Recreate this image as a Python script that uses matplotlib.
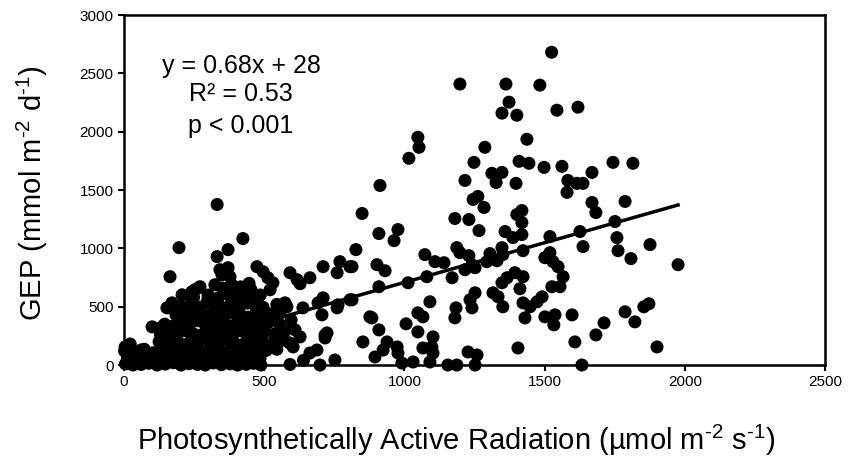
import matplotlib
matplotlib.use('Agg')
import matplotlib.pyplot as plt
import numpy as np

plt.rcParams['font.family'] = ['Liberation Sans', 'DejaVu Sans']
plt.rcParams['mathtext.fontset'] = 'custom'
plt.rcParams['mathtext.rm'] = 'Liberation Sans'

# --- data: PAR (umol m-2 s-1) vs GEP (mmol m-2 d-1) ---
# sparse points, mid and high PAR
par_hi = [1525, 1198, 1362, 1483, 1373, 1348, 1401, 1544, 1619,
          1048, 1052, 1016, 1287, 1437, 1248, 1409, 1444, 1498, 1562, 1669, 1583, 1615, 1637, 913, 1216, 1312, 1348, 1327, 1398,
          1744, 1815, 1669, 1683, 1787, 1751, 1626, 1637, 1758, 1762, 1808, 1876, 1976,
          1608, 1683, 1712, 1787, 1822, 1854, 1872, 1901, 1633,
          1580, 849, 909, 977, 963, 827, 813, 902, 931,
          1180, 1230, 1266, 1245, 1262, 1284, 1419, 1401, 1419, 1359, 1387, 1419,
          1073, 1109, 1141, 1187, 1198, 1230, 1241, 1216, 1252,
          1305, 1294, 1330, 1348, 1351, 1423,
          1080, 1013, 909, 813, 1170,
          1519, 1501, 1519, 1530, 1548, 1566, 1555, 1526, 1491, 1473,
          1394, 1366, 1348, 1423, 1412, 1316, 1334, 1351, 1423, 1448, 1430, 1501, 1537, 1533, 1598,
          1405, 1252, 1234, 1241, 1184, 1180, 1091, 1048, 1066, 1006, 1048, 1102, 1098, 1102, 1066,
          1227, 1259, 1252, 1155, 1187, 1091, 1031, 991, 974, 977, 938, 924, 895, 909, 884, 852]
gep_hi = [2681, 2408, 2408, 2399, 2253, 2159, 2141, 2184, 2210,
          1952, 1866, 1772, 1866, 1935, 1737, 1746, 1729, 1694, 1703, 1651, 1582, 1557, 1557, 1539, 1582, 1643, 1651, 1565, 1557,
          1737, 1729, 1393, 1307, 1402, 1230, 1144, 1015, 1092, 980, 912, 1032, 860,
          198, 258, 361, 456, 370, 499, 525, 155, 0,
          1480, 1299, 1127, 1161, 1066, 989, 843, 860, 808,
          1256, 1247, 1152, 1419, 1445, 1350, 1324, 1290, 1221, 1144, 1092, 1118,
          946, 886, 877, 1006, 963, 937, 860, 817, 834,
          955, 886, 894, 1006, 946, 980,
          757, 705, 671, 559, 748,
          1101, 920, 963, 886, 843, 757, 671, 671, 585, 542,
          791, 748, 705, 757, 654, 619, 585, 499, 533, 499, 404, 413, 430, 344, 430,
          146, 619, 559, 490, 490, 404, 542, 447, 413, 353, 284, 241, 155, 103, 146,
          112, 86, 0, 0, 0, 26, 26, 17, 155, 103, 198, 129, 69, 301, 404, 198]

# points in the low and middle PAR range
par_mid = [332, 196, 424, 371, 332, 164, 342, 371, 378, 349, 474, 496, 513, 531,
           592, 617, 663, 628, 710, 770, 806, 760, 267, 242, 207, 300, 324, 378,
           171, 153, 100, 128, 710, 706, 760, 806, 724, 717, 877, 752, 699, 688, 663,
           638, 581, 556, 599, 628, 603, 253, 271, 4, 61, 453, 424, 399, 389,
           574, 692, 763, 717, 596, 610, 521]
gep_mid = [1376, 1006, 1084, 989, 929, 757, 817, 834, 757, 774, 843, 800, 748, 705,
           791, 731, 748, 697, 843, 886, 843, 791, 662, 628, 602, 585, 688, 645,
           533, 490, 327, 318, 576, 430, 490, 559, 275, 232, 413, 43, 0, 129, 103,
           490, 499, 447, 318, 241, 155, 645, 671, 155, 129, 645, 585, 516, 499,
           533, 533, 516, 258, 387, 301, 645]

# dense cluster at low PAR
par_low = [5, 32, 61, 88, 118, 147, 176, 203, 232, 262, 290, 318, 347, 378, 405, 436, 462, 488, 592,
           12, 47, 83, 112, 141, 172, 199, 228, 256, 284, 313, 342, 371, 399, 428, 457, 485, 640,
           2, 38, 72, 104, 136, 163, 194, 222, 249, 277, 306, 336, 365, 392, 421, 449, 478, 507, 545,
           22, 125, 152, 181, 210, 238, 265, 296, 324, 353, 381, 409, 438, 466, 496, 526, 560, 590,
           130, 160, 188, 217, 246, 274, 303, 331, 360, 388, 417, 446, 474, 502, 535, 570,
           145, 176, 205, 233, 262, 290, 320, 348, 377, 405, 433, 462, 490, 519, 555,
           185, 214, 243, 271, 299, 328, 357, 385, 414, 443, 470, 498, 528,
           200, 236, 266, 295, 323, 352, 381, 410, 439, 468, 496, 545,
           248, 300, 336, 366, 396, 426, 455, 486,
           352, 384, 416, 446]
gep_low = [10, 0, 5, 15, 0, 8, 20, 0, 12, 5, 0, 18, 3, 10, 0, 6, 15, 0, 5,
           55, 70, 45, 75, 60, 40, 80, 55, 65, 45, 70, 50, 75, 60, 40, 65, 55, 40,
           120, 110, 135, 105, 130, 115, 140, 100, 125, 110, 135, 120, 105, 130, 115, 140, 110, 125, 135,
           180, 200, 185, 215, 175, 205, 190, 220, 180, 210, 195, 170, 215, 185, 200, 175, 210, 190,
           260, 285, 250, 295, 270, 255, 290, 265, 280, 250, 295, 270, 260, 285, 265, 275,
           350, 335, 370, 345, 380, 340, 365, 355, 335, 375, 345, 360, 340, 370, 350,
           430, 455, 415, 445, 425, 460, 420, 450, 435, 410, 445, 425, 440,
           505, 520, 495, 535, 510, 490, 525, 500, 530, 515, 495, 520,
           580, 600, 575, 610, 590, 620, 585, 600,
           660, 690, 670, 700]

slope = 0.68
intercept = 28

par = np.array(par_low + par_mid + par_hi)
gep = np.array(gep_low + gep_mid + gep_hi)

fig = plt.figure(figsize=(8.49, 4.69), dpi=100)
ax = fig.add_axes([0.1461, 0.2217, 0.8256, 0.7463])

ax.scatter(par, gep, s=88, c='black', edgecolors='none', clip_on=False, zorder=3)

xl = np.array([par.min(), par.max()])
ax.plot(xl, slope * xl + intercept, color='black', lw=2.5, zorder=4)

ax.set_xlim(0, 2500)
ax.set_ylim(0, 3000)
ax.set_xticks([0, 500, 1000, 1500, 2000, 2500])
ax.set_yticks([0, 500, 1000, 1500, 2000, 2500, 3000])
ax.tick_params(direction='out', length=4, width=1.5, labelsize=11)
for sp in ax.spines.values():
    sp.set_linewidth(1.8)

ax.set_xlabel('Photosynthetically Active Radiation (µmol m$^{\\mathregular{\u2010}2}$ s$^{\\mathregular{\u2010}1}$)',
              fontsize=21)
ax.set_ylabel('GEP (mmol m$^{\\mathregular{\u2010}2}$ d$^{\\mathregular{\u2010}1}$)', fontsize=21)
ax.xaxis.set_label_coords(0.474, -0.165)
ax.yaxis.set_label_coords(-0.105, 0.49)

ax.text(0.167, 0.855, 'y = 0.68x + 28', transform=ax.transAxes, fontsize=18, ha='center', va='center')
ax.text(0.167, 0.775, 'R² = 0.53', transform=ax.transAxes, fontsize=18, ha='center', va='center')
ax.text(0.167, 0.683, 'p < 0.001', transform=ax.transAxes, fontsize=18, ha='center', va='center')

plt.savefig('out.png', dpi=100)
